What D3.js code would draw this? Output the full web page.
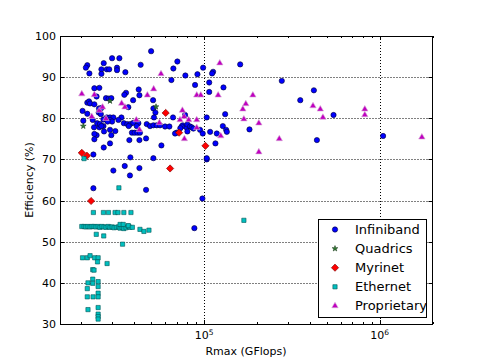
<!DOCTYPE html>
<html><head><meta charset="utf-8">
<script src="https://cdn.jsdelivr.net/npm/d3@7"></script>
<style>body{margin:0;background:#fff}svg{display:block;font-family:"DejaVu Sans",sans-serif}</style>
</head><body><svg id="c" width="480" height="360"></svg>
<script>
const seriesNames = ["Infiniband","Quadrics","Myrinet","Ethernet","Proprietary"];
const xTicks = [1e5, 1e6];
const xTickLabels = ["10", "10"];
const xTickExps = ["5", "6"];
const yTicks = [30,40,50,60,70,80,90,100];

const infinibandRmax = [49900,29900,32900,70400,26800,43500,21600,21200,31900,66800,98700,160500,26000,27900,28800,31900,112500,111000,35600,22200,26000,78200,91600,65100,106900,277000,88800,128900,42400,422000,106900,35900,35100,42800,51200,39400,353000,21600,22100,22400,23700,27600,28600,29600,24400,23700,25300,37000,51400,25200,26000,52800,20300,21600,25100,25800,131800,546000,66500,103500,77900,51800,27900,29100,30400,33800,20500,23200,26700,27900,29100,29900,34900,36500,38000,39500,37200,47100,49200,51400,53700,56100,59900,63400,75500,79200,80300,74500,83200,85000,86900,80300,73200,69800,68300,94800,98200,108200,118100,127800,133500,134700,181300,23600,25300,26700,29100,29600,31200,38800,40200,41700,43100,37500,42800,46700,24400,23700,23700,26900,29100,26800,57100,439000,1046000,116000,23400,51400,38000,103500,103500,35300,30400,42800,37800,46700,23400,97800,88000,24600,25500,28200,26000,32500,42200,41300];
const infinibandEff = [96.3,94.6,94.6,93.8,93.4,93.0,92.9,92.3,92.3,92.1,92.3,93.1,91.9,91.9,91.9,91.7,91.3,90.9,91.2,90.9,90.8,90.4,90.7,89.3,88.7,89.1,88.1,87.5,87.0,86.8,86.4,86.2,85.7,85.6,84.4,84.4,84.4,83.8,84.1,83.6,83.4,84.9,84.8,84.9,85.3,87.3,87.4,82.7,82.4,82.4,82.5,81.4,81.8,81.1,81.4,81.0,81.0,80.8,80.2,80.2,80.8,80.2,80.2,80.2,80.2,80.2,79.4,79.6,79.7,79.6,79.6,79.2,78.8,78.6,78.6,78.9,78.1,78.6,78.1,78.3,78.3,78.3,78.0,78.0,78.3,77.8,78.5,78.0,78.0,77.8,77.5,76.8,77.6,76.5,76.3,77.2,76.3,76.7,76.3,78.1,77.2,76.7,77.3,77.8,77.8,78.1,77.2,75.9,76.9,76.5,76.5,76.5,76.5,74.7,74.7,75.1,75.9,76.2,74.9,76.8,73.9,72.9,73.4,74.7,75.7,73.9,71.2,70.3,70.5,70.0,70.3,68.4,67.3,67.9,66.1,62.6,63.0,60.5,53.3,78.8,78.6,79.2,78.1,79.6,78.8,78.1];

const quadricsRmax = [20500,29100,53200];
const quadricsEff = [78.1,84.2,82.8];

const myrinetRmax = [20100,21500,22700,60400,72000,64000,101700];
const myrinetEff = [71.6,70.9,59.9,81.3,76.5,67.8,73.3];

const ethernetRmax = [20700,32700,23400,26700,28500,31100,32300,34900,38300,20100,20700,21200,21800,22400,23000,23600,24200,24900,25500,26200,26900,27600,28400,29100,29900,30700,31600,32500,33200,34100,34900,35900,36900,37800,33200,34600,37000,39000,43100,45400,48500,24300,26800,34300,168500,20300,21600,22400,23800,24900,24700,28000,23200,23600,21800,23200,24900,23200,24900,21600,24900,21600,23300,24900,24900,21800,24900,24900,24900];
const ethernetEff = [70.2,63.1,57.1,57.1,57.1,57.1,57.1,57.1,57.1,53.7,53.7,53.6,53.7,53.6,53.7,53.7,53.6,53.7,53.5,53.7,53.6,53.5,53.7,53.5,53.6,53.4,53.5,53.6,53.3,53.5,53.2,53.4,53.8,53.5,54.2,54.2,53.9,53.5,53.0,52.5,52.8,51.8,51.4,49.4,55.2,46.1,46.1,46.6,46.1,46.1,45.1,44.7,43.2,43.1,40.0,40.9,40.3,39.9,39.1,38.6,37.5,36.6,36.6,36.6,34.0,33.5,32.4,31.8,31.2];

const proprietaryRmax = [20100,23700,22900,25300,26400,27600,33900,35400,41100,42800,47500,51600,56800,55600,72900,75200,76900,77200,81700,90800,90800,90800,95700,120200,122800,124400,166200,172800,168500,189500,205000,205000,268000,417000,459000,475000,823000,823000,1740000];
const proprietaryEff = [85.9,85.7,80.4,81.9,82.7,79.9,83.6,82.7,79.6,77.2,85.6,87.1,90.8,78.9,79.6,81.9,80.4,75.0,79.6,79.6,77.7,85.6,85.6,85.6,93.4,75.7,82.2,83.5,79.8,85.6,78.8,71.8,75.0,83.0,82.2,80.2,82.2,80.8,75.4];

const svg = d3.select("#c");
const L = 60.5, R = 432.5, T = 36, B = 324;
const x = d3.scaleLog().domain([15200, 2.0e6]).range([L, R]);
const y = d3.scaleLinear().domain([30, 100]).range([B, T]);

// grid
const g = svg.append("g");
g.selectAll(".gy").data(yTicks.filter(v => v > 30 && v < 100)).enter().append("line")
  .attr("x1", L).attr("x2", R).attr("y1", d => Math.round(y(d)) + 0.5).attr("y2", d => Math.round(y(d)) + 0.5)
  .attr("stroke", "#000").attr("stroke-width", 1).attr("stroke-dasharray", "1,2");
g.selectAll(".gx").data(xTicks).enter().append("line")
  .attr("y1", T).attr("y2", B).attr("x1", d => Math.round(x(d)) + 0.5).attr("x2", d => Math.round(x(d)) + 0.5)
  .attr("stroke", "#000").attr("stroke-width", 1).attr("stroke-dasharray", "1,2");

const styles = {
  Infiniband: {sym: d3.symbolCircle, size: 22, fill: "#0000ff", stroke: "#000033", rot: 0},
  Quadrics: {sym: d3.symbolStar, size: 10, fill: "#2e7d32", stroke: "#1b3d1b", rot: 0},
  Myrinet: {sym: d3.symbolSquare, size: 26, fill: "#ff0000", stroke: "#7a0000", rot: 45},
  Ethernet: {sym: d3.symbolSquare, size: 18, fill: "#00bfbf", stroke: "#005555", rot: 0},
  Proprietary: {sym: d3.symbolTriangle, size: 18, fill: "#bf00bf", stroke: "#d9b3d9", rot: 0}
};
const series = [
  ["Infiniband", infinibandRmax, infinibandEff],
  ["Quadrics", quadricsRmax, quadricsEff],
  ["Myrinet", myrinetRmax, myrinetEff],
  ["Ethernet", ethernetRmax, ethernetEff],
  ["Proprietary", proprietaryRmax, proprietaryEff]
];
svg.append("clipPath").attr("id", "cp").append("rect").attr("x", L).attr("y", T).attr("width", R - L).attr("height", B - T);
series.forEach(([name, xs, ys]) => {
  const s = styles[name];
  const pts = xs.map((v, i) => [v, ys[i]]);
  svg.append("g").attr("clip-path", "url(#cp)").selectAll("path").data(pts).enter().append("path")
    .attr("d", d3.symbol().type(s.sym).size(s.size))
    .attr("transform", d => `translate(${x(d[0])},${y(d[1])}) rotate(${s.rot})`)
    .attr("fill", s.fill).attr("stroke", s.stroke).attr("stroke-width", 0.6);
});

// axes ticks (inside, all sides)
const ax = svg.append("g").attr("stroke", "#000").attr("stroke-width", 1);
const minor = [];
for (let e = 4; e <= 6; e++) for (let m = 2; m <= 9; m++) { const v = m * Math.pow(10, e); if (v >= 15200 && v <= 2.0e6) minor.push(v); }
minor.forEach(v => {
  const px = Math.round(x(v)) + 0.5;
  ax.append("line").attr("x1", px).attr("x2", px).attr("y1", B).attr("y2", B - 2);
  ax.append("line").attr("x1", px).attr("x2", px).attr("y1", T).attr("y2", T + 2);
});
xTicks.forEach(v => {
  const px = Math.round(x(v)) + 0.5;
  ax.append("line").attr("x1", px).attr("x2", px).attr("y1", B).attr("y2", B - 4);
  ax.append("line").attr("x1", px).attr("x2", px).attr("y1", T).attr("y2", T + 4);
});
yTicks.forEach(v => {
  const py = Math.round(y(v)) + 0.5;
  ax.append("line").attr("x1", L).attr("x2", L + 4).attr("y1", py).attr("y2", py);
  ax.append("line").attr("x1", R).attr("x2", R - 4).attr("y1", py).attr("y2", py);
});
svg.append("rect").attr("x", L).attr("y", T + 0.5).attr("width", R - L).attr("height", B - T)
  .attr("fill", "none").attr("stroke", "#000").attr("stroke-width", 1);

// tick labels
svg.selectAll(".yl").data(yTicks).enter().append("text")
  .attr("x", 56).attr("y", d => y(d) + 4).attr("text-anchor", "end")
  .attr("font-size", 11).attr("fill", "#000").text(d => d);
xTicks.forEach((v, i) => {
  const t = svg.append("text").attr("x", x(v)).attr("y", 339).attr("text-anchor", "middle").attr("font-size", 11).attr("fill", "#000");
  t.append("tspan").text(xTickLabels[i]);
  t.append("tspan").attr("dy", -4).attr("font-size", 7.5).text(xTickExps[i]);
});
svg.append("text").attr("x", 246).attr("y", 355).attr("text-anchor", "middle").attr("font-size", 11).text("Rmax (GFlops)");
svg.append("text").attr("transform", "translate(33,180) rotate(-90)").attr("text-anchor", "middle").attr("font-size", 11).text("Efficiency (%)");

// legend
const lg = svg.append("g");
lg.append("rect").attr("x", 318.5).attr("y", 219.5).attr("width", 108).attr("height", 98).attr("fill", "#fff").attr("stroke", "#000").attr("stroke-width", 1);
seriesNames.forEach((n, i) => {
  const s = styles[n];
  const cy = 229.5 + i * 19.1;
  lg.append("path").attr("d", d3.symbol().type(s.sym).size(s.size)).attr("transform", `translate(335,${cy}) rotate(${s.rot})`)
    .attr("fill", s.fill).attr("stroke", s.stroke).attr("stroke-width", 0.6);
  lg.append("text").attr("x", 355).attr("y", cy + 4.5).attr("font-size", 13).attr("fill", "#000").text(n);
});
</script></body></html>
